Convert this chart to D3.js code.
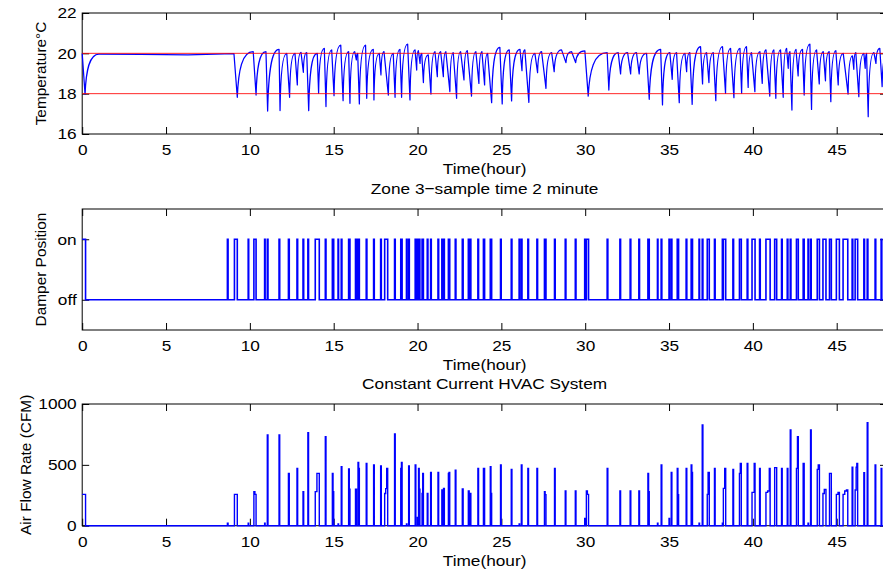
<!DOCTYPE html>
<html><head><meta charset="utf-8">
<script src="https://cdn.jsdelivr.net/npm/d3@7/dist/d3.min.js"></script>
<style>
html,body{margin:0;padding:0;background:#fff;}
svg{display:block;font-family:"Liberation Sans",Arial,Helvetica,sans-serif;}
</style></head>
<body>
<script>
// ---------- DATA ----------
const xTicks = [0,5,10,15,20,25,30,35,40,45];
const tempTicks = [16,18,20,22];
const damperTicks = [0,1];
const damperTickLabels = ["off","on"];
const flowTicks = [0,500,1000];
const setpointLines = [20,18];

// temperature key points: alternating peaks (start of a drop) and minima
const tempTimes = [0,0.17,1.0,3.5,6.3,9.05,9.25,10.2,10.37,10.96,11.06,11.74,11.8,12.2,12.37,12.69,12.83,13.05,13.19,13.39,13.51,14.02,14.1,14.44,14.54,14.88,15.02,15.42,15.56,15.89,15.97,16.25,16.35,16.43,16.53,16.9,16.97,17.36,17.4,17.72,17.82,18.0,18.26,18.55,18.66,18.95,19.05,19.41,19.55,19.85,19.95,20.05,20.15,20.25,20.35,20.64,20.8,21.04,21.18,21.38,21.54,21.69,21.93,22.13,22.33,22.57,22.77,22.97,23.22,23.48,23.66,23.84,24.0,24.18,24.42,24.91,25.05,25.47,25.61,26.11,26.23,26.4,26.64,27.0,27.16,27.4,27.66,28.0,28.15,28.59,28.85,29.19,29.43,29.98,30.18,31.31,31.41,31.97,32.11,32.53,32.71,33.06,33.22,33.66,33.82,34.5,34.61,35.05,35.19,35.45,35.61,35.95,36.05,36.24,36.38,36.88,37.0,37.24,37.38,37.64,37.79,38.19,38.37,38.67,38.87,39.23,39.33,39.62,39.72,39.92,40.12,40.42,40.56,40.78,41.01,41.25,41.37,41.65,41.81,42.01,42.11,42.21,42.33,42.57,42.7,42.96,43.06,43.4,43.5,43.8,43.96,44.2,44.33,44.55,44.65,44.95,45.09,45.39,45.68,45.94,46.02,46.14,46.32,46.62,46.7,46.78,46.88,47.22,47.34,47.57,47.71,48.0];
const tempValues = [20.0,17.97,19.96,19.95,19.92,19.99,17.82,20.08,17.93,20.08,17.14,20.2,17.16,20.0,17.82,20.0,18.43,20.05,19.06,20.03,17.16,20.0,18.02,20.25,17.36,20.17,17.9,20.41,17.65,20.08,17.52,20.08,19.67,20.0,17.49,20.41,17.77,20.2,17.69,20.0,18.93,20.08,17.93,20.0,17.82,20.2,17.82,20.46,17.69,20.17,19.17,20.13,19.5,20.0,18.55,19.92,17.98,20.08,18.84,20.08,18.84,20.08,18.1,20.03,17.77,20.08,18.68,20.13,17.88,20.08,18.51,20.08,18.43,20.0,17.55,20.3,17.49,20.17,17.64,20.2,19.14,20.17,17.57,20.0,19.04,20.08,18.26,20.03,19.09,20.17,19.54,20.08,19.54,20.12,17.88,20.03,18.18,20.03,18.98,20.03,18.98,20.03,18.98,20.0,17.72,20.2,17.44,20.03,18.71,20.03,17.55,20.0,19.09,20.03,17.47,20.33,18.48,20.03,18.55,20.03,17.65,20.33,18.02,20.25,17.8,20.25,18.02,20.33,18.31,20.03,18.1,20.08,18.51,20.17,17.88,20.17,17.77,20.17,17.82,20.25,19.26,20.08,17.19,20.2,18.88,20.2,17.93,20.46,17.22,20.17,18.48,20.08,18.64,20.08,17.6,20.13,18.43,20.0,17.98,19.87,19.21,20.03,17.85,20.0,19.26,20.0,16.86,20.03,19.5,20.25,18.35,20.0];

// air-flow pulses (hours, hours, CFM); damper is "on" while a pulse is active
const flowStart = [0.0,8.66,9.08,9.9,10.24,10.3,10.88,11.04,11.74,12.3,12.81,13.17,13.46,13.9,14.0,14.5,14.92,14.96,15.26,15.45,15.89,15.93,16.3,16.45,16.49,16.94,17.38,17.8,18.04,18.1,18.16,18.63,19.0,19.04,19.34,19.47,19.86,19.99,20.06,20.1,20.27,20.31,20.58,20.78,21.22,21.45,21.55,21.84,21.88,22.25,22.67,23.03,23.12,23.6,23.93,24.34,24.38,24.95,25.59,26.06,26.19,26.58,27.12,27.57,27.61,28.17,28.81,29.41,29.97,30.07,30.13,31.31,32.07,32.68,33.2,33.74,33.78,34.31,34.53,35.0,35.13,35.49,35.53,36.02,36.32,36.36,36.79,36.98,37.28,37.33,37.71,38.18,38.24,38.32,38.81,39.2,39.25,39.66,39.95,40.08,40.4,40.78,40.88,40.98,41.3,41.71,42.05,42.23,42.6,42.66,43.0,43.29,43.44,43.84,43.9,44.18,44.26,44.57,44.98,45.08,45.38,45.48,45.58,45.92,46.1,46.16,46.2,46.62,46.82,47.29,47.65];
const flowEnd = [0.2,8.7,9.25,9.93,10.3,10.37,10.91,11.08,11.78,12.35,12.85,13.21,13.5,14.0,14.14,14.54,14.96,15.0,15.29,15.49,15.93,15.97,16.36,16.49,16.53,16.98,17.42,17.84,18.1,18.16,18.22,18.67,19.04,19.08,19.37,19.51,19.9,20.02,20.1,20.14,20.31,20.35,20.62,20.82,21.26,21.5,21.6,21.88,21.92,22.29,22.72,23.08,23.18,23.64,24.0,24.38,24.42,24.99,25.63,26.09,26.23,26.62,27.16,27.61,27.66,28.21,28.85,29.45,30.0,30.13,30.2,31.35,32.11,32.72,33.24,33.78,33.82,34.34,34.57,35.03,35.17,35.53,35.57,36.06,36.36,36.4,36.82,37.02,37.33,37.4,37.75,38.21,38.32,38.38,38.85,39.25,39.31,39.7,40.08,40.13,40.44,40.88,40.98,41.03,41.42,41.75,42.09,42.27,42.66,42.71,43.06,43.32,43.48,43.9,43.97,44.26,44.36,44.68,45.08,45.16,45.48,45.58,45.66,45.96,46.16,46.2,46.25,46.66,46.86,47.33,47.69];
const flowLevel = [257,20,257,20,280,257,20,745,745,430,471,280,764,280,430,731,430,280,14,485,466,300,300,520,471,512,500,490,265,305,471,753,471,520,14,490,500,68,471,300,265,430,265,438,438,293,307,430,438,457,301,285,265,471,471,485,265,500,463,14,500,471,471,280,255,471,285,285,60,285,257,471,285,285,285,430,280,20,500,60,438,471,255,471,500,438,20,827,257,438,471,20,307,471,463,430,512,512,274,512,471,274,285,471,477,471,471,786,471,731,512,20,786,463,500,265,298,430,257,274,257,285,293,480,293,480,512,435,847,500,471];

// ---------- LAYOUT ----------
const W = 883, H = 573;
const L = 82.2, R = 887;
const panels = [
  {top:13, bottom:134},
  {top:209, bottom:330},
  {top:404, bottom:525.7}
];
const BLUE = "#0000ff", RED = "#ff0000";
const FS = 15.4, SX = 1.12;   // reference text is slightly wide

const svg = d3.select("body").append("svg").attr("width",W).attr("height",H);
const x = d3.scaleLinear().domain([0,48]).range([L,R]);

function stretch(sel) {
  sel.each(function(){
    const t = d3.select(this);
    const xv = +(t.attr("x") || 0);
    t.attr("x", xv / SX).attr("transform", `scale(${SX},1)`);
  });
}
function hText(cx, cy, str) {
  svg.append("text").attr("transform",`translate(${cx},${cy}) scale(${SX},1)`)
    .attr("text-anchor","middle").attr("font-size",FS).attr("fill","#000").text(str);
}
function vText(cx, cy, str) {
  svg.append("text").attr("transform",`translate(${cx},${cy}) rotate(-90)`)
    .attr("text-anchor","middle").attr("font-size",FS).attr("fill","#000").text(str);
}

function frame(p, y, yTickVals, yFmt) {
  const g = svg.append("g");
  const gb = g.append("g").attr("transform",`translate(0,${p.bottom})`)
    .call(d3.axisBottom(x).tickValues(xTicks).tickSizeInner(-7).tickSizeOuter(0).tickPadding(10.5).tickFormat(d3.format("d")));
  const gt = g.append("g").attr("transform",`translate(0,${p.top})`)
    .call(d3.axisTop(x).tickValues(xTicks).tickSizeInner(-7).tickSizeOuter(0).tickFormat(""));
  const gl = g.append("g").attr("transform",`translate(${L},0)`)
    .call(d3.axisLeft(y).tickValues(yTickVals).tickSizeInner(-7).tickSizeOuter(0).tickPadding(5.5).tickFormat(yFmt));
  const gr = g.append("g").attr("transform",`translate(${R},0)`)
    .call(d3.axisRight(y).tickValues(yTickVals).tickSizeInner(-7).tickSizeOuter(0).tickFormat(""));
  [gb,gt,gl,gr].forEach(a=>{
    a.select(".domain").remove();
    a.selectAll(".tick line").attr("stroke","#000").attr("stroke-width",1);
    a.selectAll("text").attr("font-size",FS).attr("font-family","'Liberation Sans',Arial,sans-serif").attr("fill","#000");
  });
  stretch(gb.selectAll("text"));
  stretch(gl.selectAll("text"));
  g.append("rect").attr("x",L).attr("y",p.top).attr("width",R-L).attr("height",p.bottom-p.top)
    .attr("fill","none").attr("stroke","#000").attr("stroke-width",1);
  return g;
}

// custom curve: concave (exponential-like) recovery when rising, straight line otherwise
function curveSaw(context) {
  let x0, y0, n = 0;
  return {
    areaStart(){}, areaEnd(){},
    lineStart(){ n = 0; },
    lineEnd(){},
    point(px, py){
      px = +px; py = +py;
      if (n === 0) context.moveTo(px, py);
      else if (py < y0 - 2) {
        const dx = px - x0, dy = py - y0;
        context.bezierCurveTo(x0 + 0.07*dx, y0 + 0.6*dy, x0 + 0.3*dx, py, px, py);
      } else context.lineTo(px, py);
      x0 = px; y0 = py; n++;
    }
  };
}

// ---------- PANEL 1: temperature ----------
{
  const p = panels[0];
  const y = d3.scaleLinear().domain([16,22]).range([p.bottom,p.top]);
  const g = frame(p, y, tempTicks, d3.format("d"));
  const pts = tempTimes.map((t,i)=>[t,tempValues[i]]);
  g.append("path").datum(pts)
    .attr("d", d3.line().x(d=>x(d[0])).y(d=>y(d[1])).curve(curveSaw))
    .attr("fill","none").attr("stroke",BLUE).attr("stroke-width",1.25).attr("stroke-linejoin","round");
  g.selectAll("line.sp").data(setpointLines).enter().append("line")
    .attr("x1",L).attr("x2",R).attr("y1",d=>y(d)).attr("y2",d=>y(d))
    .attr("stroke",RED).attr("stroke-width",1).attr("stroke-opacity",0.85);
  hText((L+R)/2, 173.5, "Time(hour)");
  hText((L+R)/2, 193.5, "Zone 3\u2212sample time 2 minute");
  vText(46, (p.top+p.bottom)/2, "Temperature\u00b0C");
}

// helpers to build step series from pulses
function stepPoints(valFn) {
  const pts = [];
  if (flowStart[0] > 0) pts.push([0,0]);
  for (let i=0;i<flowStart.length;i++) {
    pts.push([flowStart[i], valFn(i)]);
    if (i === flowStart.length-1 || flowStart[i+1] > flowEnd[i] + 1e-9) pts.push([flowEnd[i], 0]);
  }
  pts.push([48,0]);
  return pts;
}

// ---------- PANEL 2: damper ----------
{
  const p = panels[1];
  const y = d3.scaleLinear().domain([-0.5,1.5]).range([p.bottom,p.top]);
  const g = frame(p, y, damperTicks, d=>damperTickLabels[d]);
  const pts = stepPoints(i=>1);
  g.append("path").datum(pts)
    .attr("d", d3.line().x(d=>x(d[0])).y(d=>y(d[1])).curve(d3.curveStepAfter))
    .attr("fill","none").attr("stroke",BLUE).attr("stroke-width",1.6);
  hText((L+R)/2, 370, "Time(hour)");
  hText((L+R)/2, 389, "Constant Current HVAC System");
  vText(46, (p.top+p.bottom)/2, "Damper Position");
}

// ---------- PANEL 3: air flow ----------
{
  const p = panels[2];
  const y = d3.scaleLinear().domain([0,1000]).range([p.bottom,p.top]);
  const g = frame(p, y, flowTicks, d3.format("d"));
  const pts = stepPoints(i=>flowLevel[i]);
  g.append("path").datum(pts)
    .attr("d", d3.line().x(d=>x(d[0])).y(d=>y(d[1])).curve(d3.curveStepAfter))
    .attr("fill","none").attr("stroke",BLUE).attr("stroke-width",1.4);
  hText((L+R)/2, 566, "Time(hour)");
  vText(31, (p.top+p.bottom)/2, "Air Flow Rate (CFM)");
}
</script>
</body></html>
